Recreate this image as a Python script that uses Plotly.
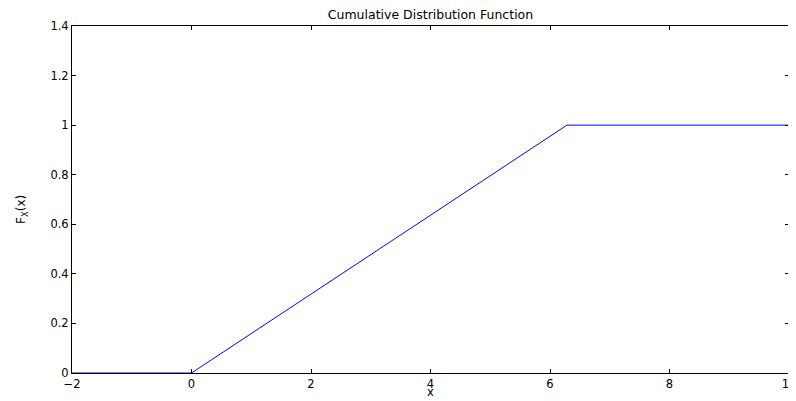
import numpy as np
import plotly.graph_objects as go

x_vals = [-2, 0, 2 * np.pi, 10]
y_vals = [0, 0, 1, 1]
x_ticks = [-2, 0, 2, 4, 6, 8, 10]
y_ticks = [0, 0.2, 0.4, 0.6, 0.8, 1, 1.2, 1.4]
y_tick_labels = ["0", "0.2", "0.4", "0.6", "0.8", "1", "1.2", "1.4"]

fig = go.Figure()
fig.add_trace(go.Scatter(x=x_vals, y=y_vals, mode="lines",
                         line=dict(color="#0000ff", width=1), showlegend=False))

# page body has an 8px default margin, so the figure is sized to fit the window
W, H = 788, 393
fam = "DejaVu Sans, Liberation Sans, sans-serif"
font = dict(family=fam, size=12, color="black")
fig.update_layout(
    width=W, height=H,
    margin=dict(l=64, r=7, t=18, b=28, autoexpand=False),
    paper_bgcolor="white", plot_bgcolor="white",
    font=font,
    title=dict(text="Cumulative Distribution Function", x=0.5, xref="paper",
               xanchor="center", y=1 - 7 / H, yanchor="middle",
               font=dict(family=fam, size=12.5, color="black")),
    xaxis=dict(range=[-2, 10], tickvals=x_ticks, ticks="inside", ticklen=4,
               tickcolor="black", showline=True, linecolor="black", linewidth=1,
               mirror="ticks", showgrid=False, zeroline=False, automargin=False,
               ticklabeloverflow="allow", ticklabelstandoff=0,
               tickfont=dict(family=fam, size=11.5, color="black")),
    yaxis=dict(range=[0, 1.4], tickvals=y_ticks, ticktext=y_tick_labels,
               ticks="inside", ticklen=4, tickcolor="black", showline=True,
               linecolor="black", linewidth=1, mirror="ticks", showgrid=False,
               zeroline=False, automargin=False, ticklabeloverflow="allow",
               tickfont=dict(family=fam, size=11.5, color="black")),
    annotations=[
        dict(text="x", xref="paper", yref="paper", x=0.5, y=0,
             xanchor="center", yanchor="bottom", yshift=-28, showarrow=False,
             font=dict(family=fam, size=11.5, color="black")),
        dict(text="F<sub>X</sub>(x)", xref="paper", yref="paper", x=0, y=0.47,
             xanchor="center", yanchor="middle", xshift=-50, textangle=-90,
             showarrow=False, font=dict(family=fam, size=12, color="black")),
    ],
)
fig.write_html("out.html")
